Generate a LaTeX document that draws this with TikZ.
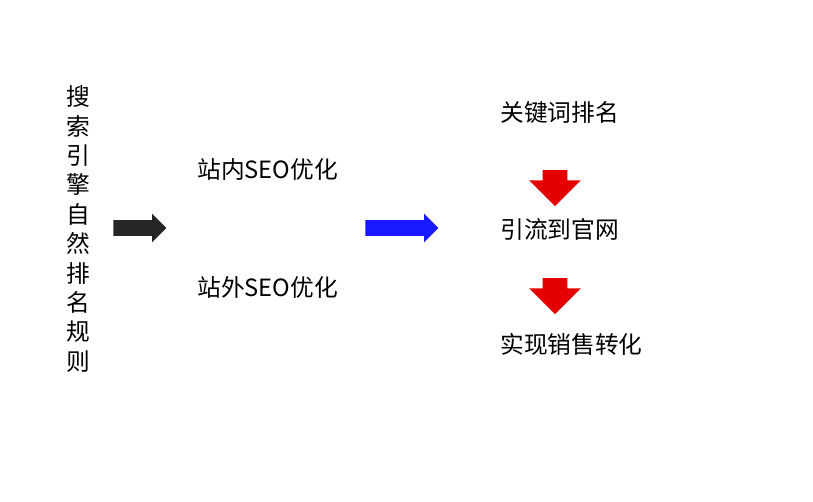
\documentclass[tikz,border=0pt]{standalone}
\usepackage{fontspec}
\setmainfont{Noto Sans CJK SC}
\usetikzlibrary{shapes.arrows}
\tikzset{
  label/.style={anchor=west,inner sep=0pt,font=\fontsize{13.5}{15}\selectfont},
  bigarrow/.style={single arrow,draw=none,inner xsep=0pt,minimum height=#1}
}
\begin{document}
\begin{tikzpicture}[x=0.02cm,y=-0.02cm]
  \useasboundingbox (0,0) rectangle (813,502);
  % vertical title
  \node[inner sep=0pt,align=center,font=\fontsize{13.5}{16.7}\selectfont] (rule) at (78,229)
    {搜\\索\\引\\擎\\自\\然\\排\\名\\规\\则};
  % arrows
  \node[bigarrow=1.06cm,fill=black!85,inner ysep=0.15cm,single arrow head extend=0.13cm] (arrowa) at (136,228) {};
  \node[bigarrow=1.46cm,fill=blue!90,inner ysep=0.15cm,single arrow head extend=0.13cm] (arrowb) at (398,228) {};
  \node[bigarrow=0.72cm,fill=red!90!black,inner ysep=0.24cm,single arrow head extend=0.27cm,rotate=-90] (arrowc) at (555,182) {};
  \node[bigarrow=0.72cm,fill=red!90!black,inner ysep=0.24cm,single arrow head extend=0.27cm,rotate=-90] (arrowd) at (555,290) {};
  % labels
  \node[label] (inside) at (197,170) {站内SEO优化};
  \node[label] (outside) at (197,287) {站外SEO优化};
  \node[label] (rank) at (500,113) {关键词排名};
  \node[label] (traffic) at (500,229) {引流到官网};
  \node[label] (sales) at (500,344) {实现销售转化};
\end{tikzpicture}
\end{document}
